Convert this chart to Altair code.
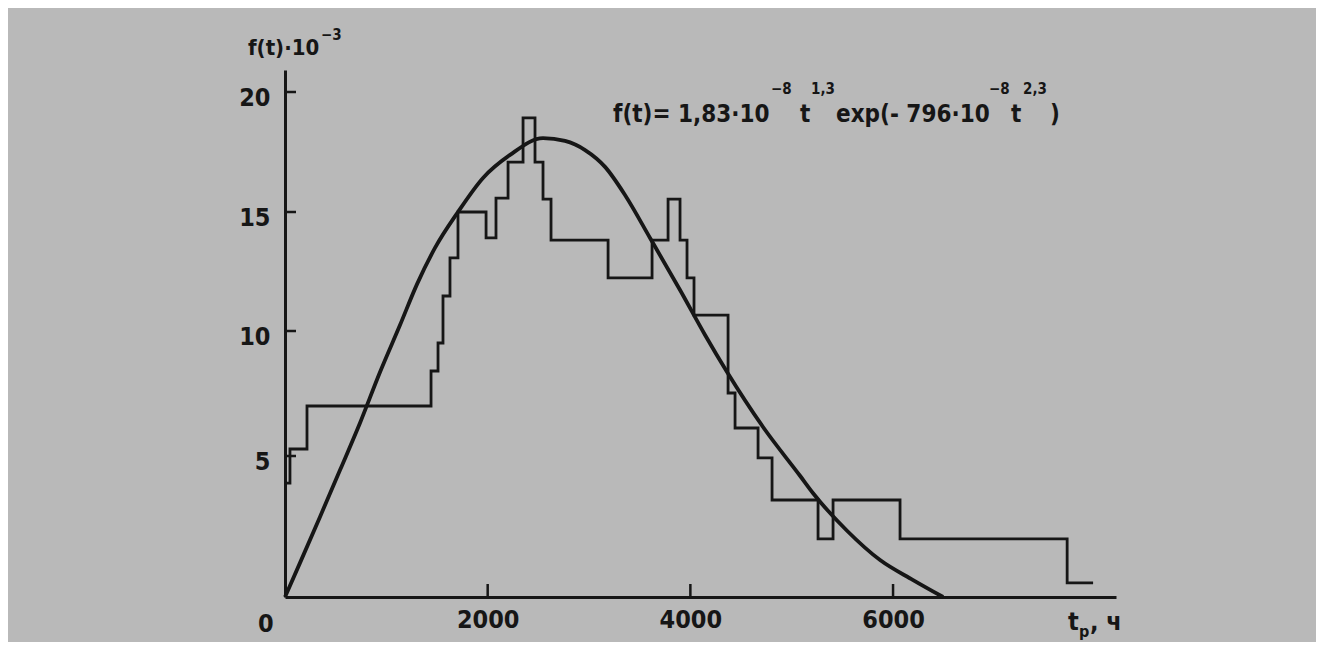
import altair as alt
import pandas as pd

# ---- data ----
# histogram bin edges (t, hours) and bin heights (f(t)*10^-3)
hist_edges = [0, 49, 217, 1441, 1510, 1559, 1628, 1707, 1984, 2082, 2201, 2349, 2467,
              2546, 2625, 3188, 3622, 3780, 3898, 3967, 4036, 4372, 4441, 4668, 4806,
              5260, 5408, 6069, 7718, 7974]
hist_levels = [4.04, 5.28, 7.0, 8.4, 9.52, 11.47, 13.07, 15.0, 13.91, 15.58, 17.08, 18.92,
               17.08, 15.54, 13.82, 12.23, 13.82, 15.54, 13.82, 12.23, 10.67, 7.52, 6.12,
               4.93, 3.44, 2.06, 3.44, 2.06, 0.5]

# fitted curve, points
curve_t = [0, 148, 345, 543, 740, 938, 1135, 1303, 1480, 1707, 1954, 2221, 2546, 2763,
           2961, 3158, 3355, 3602, 3898, 4145, 4362, 4717, 5082, 5211, 5546, 5872, 6198, 6494]
curve_f = [0, 1.21, 2.84, 4.50, 6.32, 8.36, 10.25, 11.97, 13.49, 15.0, 16.42, 17.38, 18.08,
           17.96, 17.58, 16.88, 15.71, 13.91, 11.72, 9.84, 8.36, 6.16, 4.30, 3.68, 2.35,
           1.31, 0.60, 0]

x_ticks = [2000, 4000, 6000]
y_ticks = [5, 10, 15, 20]

INK = "#161616"
BG = "#b9b9b9"
FONT = "DejaVu Sans Condensed, DejaVu Sans, sans-serif"

W, H = 831, 527

hist_df = pd.DataFrame({"t": hist_edges, "f": hist_levels + [hist_levels[-1]]})
curve_df = pd.DataFrame({"t": curve_t, "f": curve_f})
xt_df = pd.DataFrame({"t": x_ticks})
yt_df = pd.DataFrame({"f": y_ticks})

xs = alt.Scale(domain=[0, 8200], nice=False, zero=False)
# the scanned axis is slightly uneven; piecewise mapping follows its tick marks
ys = alt.Scale(domain=[0, 5, 10, 15, 20, 20.92], range=[H, 386, 261, 142, 22, 0],
               nice=False, zero=False)

x_axis = alt.Axis(values=x_ticks, format="d", ticks=False, grid=False, domainColor=INK,
                  domainWidth=3, labelFont=FONT, labelFontSize=25, labelFontWeight="bold",
                  labelColor=INK, labelPadding=10, title=None)
y_axis = alt.Axis(values=y_ticks, format="d", ticks=False, grid=False, domainColor=INK,
                  domainWidth=3, labelFont=FONT, labelFontSize=25, labelFontWeight="bold",
                  labelColor=INK, labelPadding=15, labelOffset=5, title=None)

hist = alt.Chart(hist_df).mark_line(interpolate="step-after", color=INK, strokeWidth=2.8).encode(
    x=alt.X("t:Q", scale=xs, axis=x_axis),
    y=alt.Y("f:Q", scale=ys, axis=y_axis),
)

curve = alt.Chart(curve_df).mark_line(interpolate="monotone", color=INK, strokeWidth=3.8).encode(
    x=alt.X("t:Q", scale=xs),
    y=alt.Y("f:Q", scale=ys),
)

xticks = alt.Chart(xt_df).mark_rule(color=INK, strokeWidth=2.5).encode(
    x=alt.X("t:Q", scale=xs), y=alt.value(H), y2=alt.value(H - 13)
)
yticks = alt.Chart(yt_df).mark_rule(color=INK, strokeWidth=2.5).encode(
    y=alt.Y("f:Q", scale=ys), x=alt.value(0), x2=alt.value(11)
)

one = pd.DataFrame({"a": [0]})


def txt(s, X, Y, size=24, weight="bold"):
    # X, Y: page position converted to plot coordinates
    return alt.Chart(one).mark_text(
        text=s, align="left", baseline="alphabetic", font=FONT, fontSize=size,
        fontWeight=weight, color=INK
    ).encode(x=alt.value(X - 285), y=alt.value(Y - 70))


texts = [
    # formula
    txt("f(t)= 1,83·10", 613, 122),
    txt("−8", 771, 94, 15),
    txt("t", 800, 122),
    txt("1,3", 811, 94, 15),
    txt("exp(- 796·10", 836, 122),
    txt("−8", 989, 94, 15),
    txt("t", 1011, 122),
    txt("2,3", 1023, 94, 15),
    txt(")", 1050, 122),
    # y title
    txt("f(t)·10", 248, 55, 22),
    txt("−3", 321, 40, 15),
    # x title
    txt("t", 1068, 630, 25),
    txt("p", 1079, 637, 16),
    txt(", ч", 1090, 630, 25),
    # origin label
    txt("0", 258, 632, 25),
]

chart = alt.layer(hist, curve, xticks, yticks, *texts).properties(
    width=W, height=H,
    autosize=alt.AutoSizeParams(type="none"),
    padding={"left": 277, "top": 62, "right": 200, "bottom": 45},
    background=BG,
).configure_view(stroke=None)

chart.save("out.html", embed_options={"renderer": "svg", "actions": False})
